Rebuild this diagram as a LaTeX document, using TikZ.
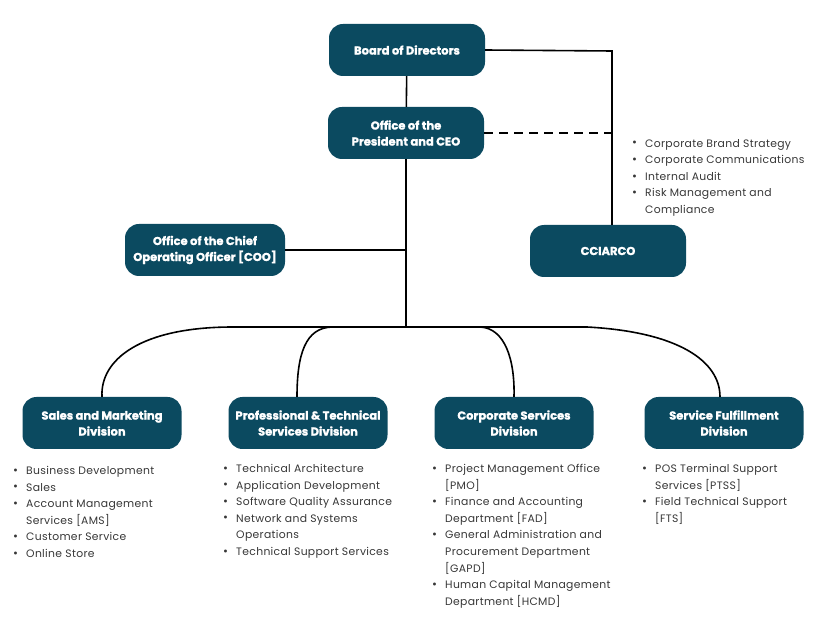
\documentclass[tikz,border=0pt]{standalone}
\usepackage{fontspec}
\setmainfont{Poppins}
\newfontfamily\titlefont{Poppins}[FakeBold=1.2]
\newfontfamily\listfont{Poppins}[LetterSpace=3]
\definecolor{teal}{RGB}{11,74,96}
\definecolor{listgray}{RGB}{55,55,55}
\newcommand{\bul}{\makebox[13pt][l]{\raisebox{0.3pt}{\large •}}}
\newcommand{\ind}{\hspace*{13pt}}
\begin{document}
\begin{tikzpicture}[x=1pt,y=-1pt,
  box/.style={fill=teal,rounded corners=14pt,minimum width=156pt,minimum height=52pt,
    text=white,font=\titlefont\bfseries\fontsize{11.5}{16}\selectfont,align=center,inner sep=2pt},
  lst/.style={anchor=north west,inner sep=0pt,align=left,text=listgray,
    font=\listfont\fontsize{10.8}{16.6}\selectfont},
  conn/.style={line width=1.6pt,black}]
\useasboundingbox (0,0) rectangle (839,620);
\node[box] (board) at (407,50) {Board of Directors};
\node[box] (ceo) at (406,133) {Office of the\\President and CEO};
\node[box,minimum width=160pt] (coo) at (205,250) {Office of the Chief\\Operating Officer [COO]};
\node[box] (cci) at (608,251) {CCIARCO};
\node[box,minimum width=159pt] (sales) at (102,423) {Sales and Marketing\\Division};
\node[box,minimum width=159pt] (prof) at (308,423) {Professional \& Technical\\Services Division};
\node[box,minimum width=159pt] (corp) at (514,423) {Corporate Services\\Division};
\node[box,minimum width=159pt] (serv) at (724,423) {Service Fulfillment\\Division};
\coordinate (j) at (406,327);
\coordinate (cornerR) at (612,51);
% connectors
\draw[conn] (board) -- (ceo);
\draw[conn] (ceo.south) -- (j);
\draw[conn] (board.east) -- (cornerR) -- (cornerR |- cci.north);
\draw[conn,dash pattern=on 9pt off 6pt] (ceo.east) -- (ceo.east -| cornerR);
\draw[conn] (coo.east) -- (coo.east -| j);
\draw[conn] (j) -- (233,327) .. controls (140,327) and (100,360) .. (sales.north);
\draw[conn] (j) -- (333,327) .. controls (305,327) and (297,355) .. ([xshift=-11pt]prof.north);
\draw[conn] (j) -- (480,327) .. controls (505,328) and (515,360) .. (corp.north);
\draw[conn] (j) -- (587,327) .. controls (680,332) and (720,362) .. ([xshift=-4pt]serv.north);
% lists
\node[lst] (lcci) at (632,139) {\bul Corporate Brand Strategy\\
\bul Corporate Communications\\
\bul Internal Audit\\
\bul Risk Management and\\
\ind Compliance};
\node[lst] (lsales) at (13,466) {\bul Business Development\\
\bul Sales\\
\bul Account Management\\
\ind Services [AMS]\\
\bul Customer Service\\
\bul Online Store};
\node[lst] (lprof) at (223,464) {\bul Technical Architecture\\
\bul Application Development\\
\bul Software Quality Assurance\\
\bul Network and Systems\\
\ind Operations\\
\bul Technical Support Services};
\node[lst] (lcorp) at (432,464) {\bul Project Management Office\\
\ind [PMO]\\
\bul Finance and Accounting\\
\ind Department [FAD]\\
\bul General Administration and\\
\ind Procurement Department\\
\ind [GAPD]\\
\bul Human Capital Management\\
\ind Department [HCMD]};
\node[lst] (lserv) at (642,464) {\bul POS Terminal Support\\
\ind Services [PTSS]\\
\bul Field Technical Support\\
\ind [FTS]};
\end{tikzpicture}
\end{document}
